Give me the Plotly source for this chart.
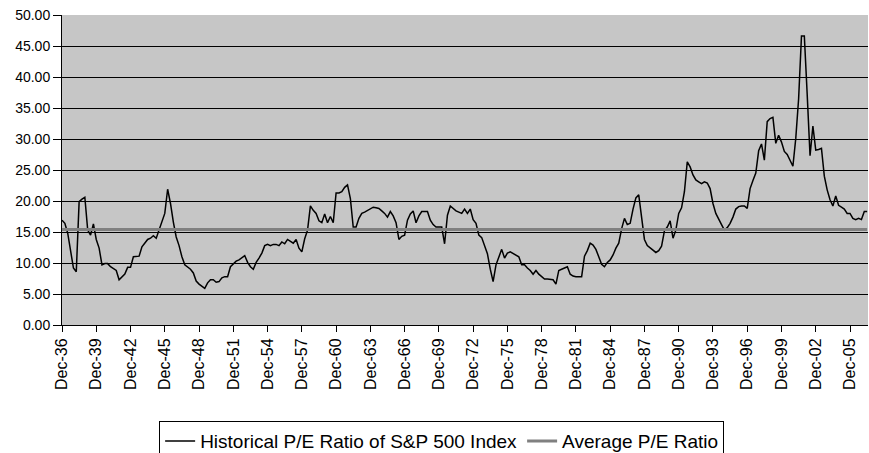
import plotly.graph_objects as go

# Quarterly trailing P/E readings, Dec-36 .. Jun-07
PE_1936_1949 = [16.9, 16.4, 14.8, 11.8, 9.2, 8.6, 19.9, 20.3, 20.6, 15.3, 14.5, 16.3, 13.8, 12.4,
                9.7, 9.9, 9.9, 9.4, 9.1, 8.8, 7.3, 7.8, 8.2, 9.3, 9.3, 11.0, 11.1, 11.1, 12.6, 13.3,
                13.8, 14.0, 14.4, 14.0, 15.3, 16.6, 18.0, 21.9, 19.6, 16.6, 14.2, 12.8, 11.0, 9.7,
                9.4, 9.0, 8.4, 7.1, 6.6, 6.3, 5.9, 6.8, 7.3, 7.3, 6.9, 7.0]
PE_1950_1964 = [7.6, 7.8, 7.8, 9.4, 9.9, 10.3, 10.5, 10.8, 11.2, 10.1, 9.4, 9.0, 10.1, 10.8,
                11.6, 12.8, 13.0, 12.8, 13.0, 13.0, 12.8, 13.4, 13.1, 13.8, 13.5, 13.2, 13.8, 12.4,
                11.8, 13.9, 15.3, 19.2, 18.5, 18.0, 16.8, 16.5, 17.9, 16.5, 17.5, 16.5, 21.3, 21.3,
                21.5, 22.2, 22.6, 20.4, 15.8, 15.8, 17.2, 18.0, 18.2, 18.5, 18.7, 19.0, 18.9, 18.8]
PE_1964_1978 = [18.4, 18.0, 17.4, 18.3, 17.6, 16.5, 13.8, 14.3, 14.5, 16.9, 17.9, 18.4, 16.5, 17.6,
                18.3, 18.3, 18.3, 16.9, 16.2, 15.8, 15.8, 15.8, 13.1, 17.7, 19.2, 18.8, 18.4, 18.2,
                18.0, 18.7, 18.0, 18.7, 17.0, 16.4, 14.5, 14.1, 12.8, 11.5, 9.0, 7.0, 9.7, 11.0,
                12.2, 10.8, 11.6, 11.8, 11.5, 11.3, 11.0, 9.7, 9.7, 9.2, 8.8, 8.2, 8.8, 8.2]
PE_1978_1992 = [7.8, 7.4, 7.4, 7.4, 7.3, 6.6, 8.8, 9.0, 9.2, 9.4, 8.2, 7.9, 7.8, 7.8,
                7.8, 11.1, 12.0, 13.2, 12.9, 12.2, 11.0, 9.8, 9.4, 10.1, 10.5, 11.3, 12.4, 13.2,
                15.5, 17.2, 16.2, 16.4, 18.7, 20.5, 21.0, 17.2, 13.8, 12.8, 12.4, 12.0, 11.7, 12.0,
                12.7, 15.2, 15.8, 16.8, 14.0, 15.3, 18.0, 18.9, 21.5, 26.3, 25.5, 24.2, 23.4, 23.1]
PE_1992_2007 = [22.8, 23.1, 22.9, 22.0, 19.6, 18.0, 17.0, 16.2, 15.3, 15.7, 16.4, 17.4, 18.7, 19.1,
                19.2, 19.2, 18.8, 22.0, 23.3, 24.5, 28.1, 29.2, 26.6, 32.8, 33.3, 33.5, 29.3, 30.6,
                29.5, 28.0, 27.5, 26.6, 25.6, 30.1, 36.5, 46.6, 46.6, 37.2, 27.3, 32.1, 28.2, 28.3,
                28.5, 24.0, 21.8, 20.2, 19.2, 20.8, 19.3, 19.0, 18.7, 18.0, 18.0, 17.2, 17.0, 17.2,
                17.0, 18.3, 18.3]
PE = PE_1936_1949 + PE_1950_1964 + PE_1964_1978 + PE_1978_1992 + PE_1992_2007

AVERAGE_PE = 15.4

MONTHS = ["Dec", "Mar", "Jun", "Sep"]
CATEGORIES = [f"{MONTHS[i % 4]}-{(36 + (i + 3) // 4) % 100:02d}" for i in range(len(PE))]

TICK_LABELS = ["Dec-36", "Dec-39", "Dec-42", "Dec-45", "Dec-48", "Dec-51", "Dec-54", "Dec-57",
               "Dec-60", "Dec-63", "Dec-66", "Dec-69", "Dec-72", "Dec-75", "Dec-78", "Dec-81",
               "Dec-84", "Dec-87", "Dec-90", "Dec-93", "Dec-96", "Dec-99", "Dec-02", "Dec-05"]
Y_TICKS = [0, 5, 10, 15, 20, 25, 30, 35, 40, 45, 50]

SANS = "Liberation Sans, Arial, sans-serif"

fig = go.Figure()
fig.add_trace(go.Scatter(
    x=CATEGORIES, y=PE, mode="lines",
    name="Historical P/E Ratio of S&P 500 Index",
    line=dict(color="#000000", width=1.5),
))
fig.add_trace(go.Scatter(
    x=CATEGORIES, y=[AVERAGE_PE] * len(CATEGORIES), mode="lines",
    name="Average P/E Ratio",
    line=dict(color="#808080", width=3),
))

fig.update_layout(
    width=869, height=453,
    margin=dict(l=62, r=1, t=15, b=128, autoexpand=False),
    paper_bgcolor="#ffffff",
    plot_bgcolor="#C6C6C6",
    font=dict(family=SANS, size=14, color="#000000"),
    showlegend=True,
    legend=dict(
        orientation="h", x=0.471, xanchor="center", y=-0.31, yanchor="top",
        bordercolor="#000000", borderwidth=1, bgcolor="#ffffff",
        font=dict(family=SANS, size=19, color="#000000"),
        itemwidth=30,
    ),
    xaxis=dict(
        type="category", categoryorder="array", categoryarray=CATEGORIES,
        range=[0, len(CATEGORIES) - 0.7], automargin=False,
        tickmode="array", tickvals=TICK_LABELS, ticktext=TICK_LABELS,
        tickangle=-90, ticks="outside", ticklen=6, tickcolor="#000000",
        showgrid=False, showline=True, linecolor="#000000", linewidth=1,
        tickfont=dict(family=SANS, size=16),
        zeroline=False,
    ),
    yaxis=dict(
        range=[0, 50], tickmode="array", tickvals=Y_TICKS, automargin=False,
        tickformat=".2f", ticks="outside", ticklen=8, tickcolor="#000000",
        showgrid=True, gridcolor="#000000", gridwidth=1,
        showline=True, linecolor="#000000", linewidth=1,
        zeroline=False,
        tickfont=dict(family=SANS, size=14),
    ),
)

# Remove the browser's default 8px body margin so the 869x453 figure fills the window exactly.
fig.write_html(
    "out.html",
    config={"displayModeBar": False},
    post_script="document.body.style.margin='0';document.body.style.overflow='hidden';",
)
